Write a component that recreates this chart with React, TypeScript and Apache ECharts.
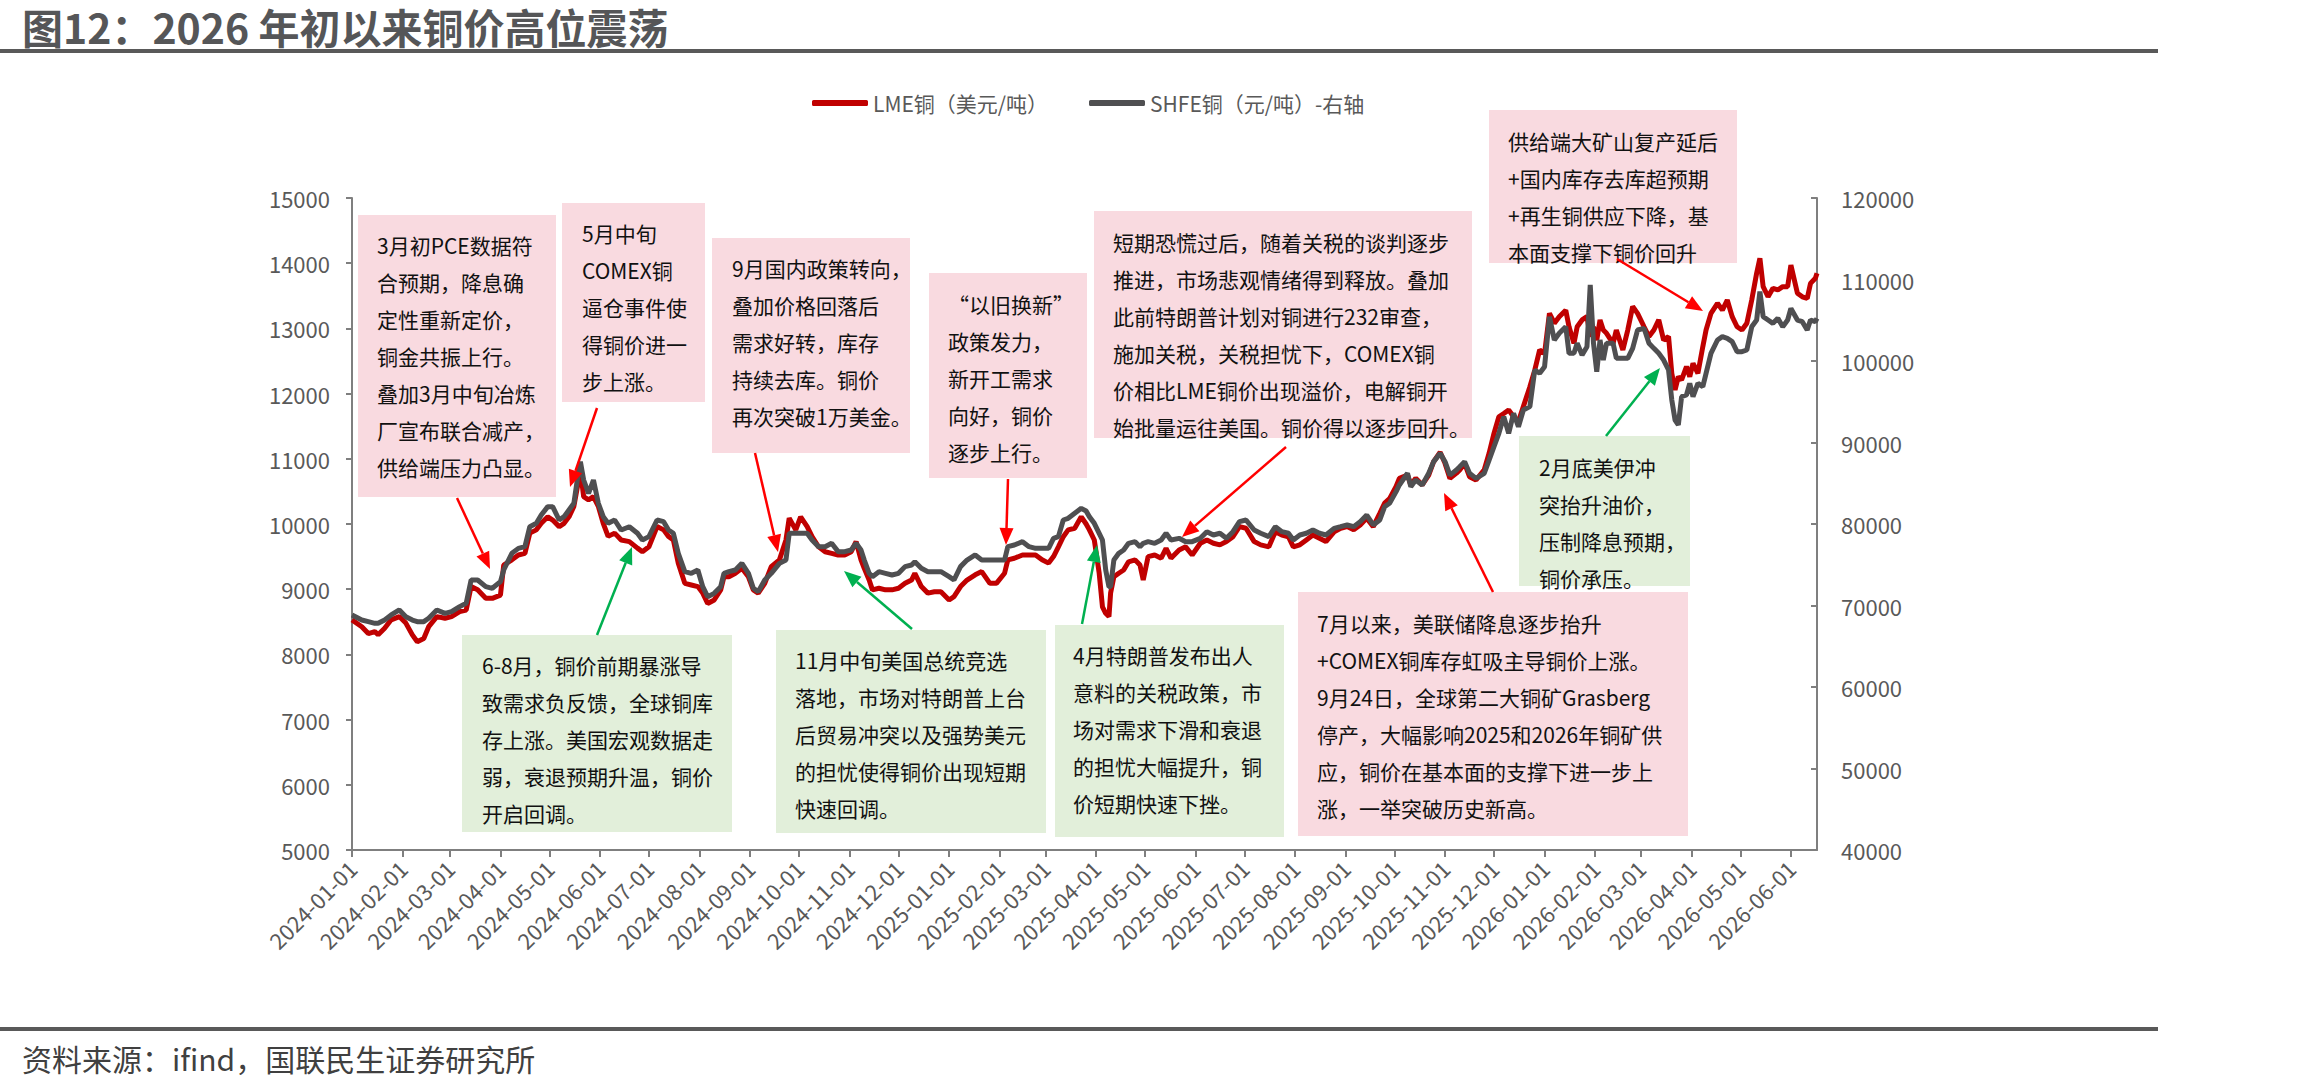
import React, { useEffect, useRef } from "react";
import * as echarts from "echarts";

// ---------- DATA ----------
// calendar days on the axis: 2024-01-01 ... 2026-06-17
const AXIS_START = Date.UTC(2024, 0, 1);
const AXIS_DAYS = 899;

// sampled observations: day offset from 2024-01-01, LME (USD/t, left axis), SHFE (CNY/t, right axis)
const days2024 = [0, 6, 10, 14, 16, 20, 24, 29, 33, 37, 40, 44, 47, 52, 57, 61, 66, 70, 73, 77, 82, 86, 91, 93, 98, 102, 106, 109, 113, 116, 120, 123, 127, 130, 133, 136, 139, 140, 142, 145, 148, 151, 154, 157, 161, 165, 170, 175, 178, 182, 187, 191, 194, 197, 200, 204, 208, 212, 215, 218, 222, 226, 228, 231, 235, 239, 243, 246, 249, 253, 257, 262, 266, 268, 272, 275, 279, 282, 286, 290, 294, 298, 302, 306, 309, 312, 314, 317, 319, 323, 327, 331, 335, 339, 343, 345, 349, 353, 357, 361];
const lme2024 = [8530, 8425, 8320, 8350, 8300, 8400, 8530, 8580, 8480, 8300, 8195, 8245, 8425, 8580, 8555, 8580, 8655, 8680, 9040, 8990, 8860, 8860, 8910, 9370, 9450, 9525, 9550, 9860, 9910, 10010, 10110, 10060, 9960, 10010, 10110, 10270, 10680, 10830, 10420, 10370, 10420, 10270, 10010, 9810, 9860, 9755, 9730, 9630, 9575, 9650, 9960, 9910, 9810, 9755, 9400, 9090, 9065, 9040, 8940, 8780, 8835, 8990, 9190, 9190, 9245, 9320, 9190, 8990, 8940, 9090, 9345, 9450, 9755, 10090, 9910, 10110, 9960, 9805, 9650, 9575, 9550, 9525, 9525, 9575, 9730, 9450, 9320, 9140, 8990, 9015, 8990, 8990, 9015, 9090, 9140, 9245, 9040, 8940, 8960, 8960];
const shfe2024 = [68840, 68220, 68020, 67810, 67810, 68220, 68840, 69450, 68630, 68220, 68020, 68020, 68430, 69450, 69040, 69240, 69860, 70270, 73130, 73130, 72310, 72110, 72930, 74360, 76400, 77010, 77220, 79670, 80080, 81100, 82130, 82130, 80490, 80900, 81720, 82540, 86630, 87650, 85400, 83760, 85400, 82540, 80900, 80080, 80490, 79260, 79670, 78860, 78040, 78450, 80490, 80290, 79260, 78860, 76400, 74150, 73950, 74360, 72310, 71080, 71490, 72310, 73950, 74150, 74360, 75170, 73950, 72110, 71700, 73130, 73950, 75170, 75580, 78860, 78860, 78860, 78860, 78040, 77220, 77220, 77630, 76610, 76610, 76810, 77630, 76810, 75580, 73950, 73540, 74150, 73950, 73740, 73950, 74770, 74970, 75380, 74560, 74150, 74150, 74150];

const days2025 = [366, 369, 373, 377, 382, 386, 391, 395, 400, 402, 406, 411, 415, 419, 423, 427, 430, 433, 436, 439, 443, 447, 450, 452, 455, 458, 460, 462, 464, 465, 467, 470, 473, 476, 480, 483, 485, 488, 492, 496, 499, 502, 507, 511, 515, 520, 524, 528, 532, 536, 540, 544, 548, 553, 557, 562, 566, 570, 574, 577, 581, 585, 589, 593, 597, 602, 606, 610, 614, 618, 622, 626, 630, 633, 636, 640, 642, 647, 649, 652, 656, 660, 663, 667, 670, 673, 677, 679, 682, 685, 689, 694, 697, 700, 703, 706, 709, 712, 715, 718, 722, 725, 728];
const lme2025 = [8835, 8885, 9040, 9140, 9220, 9270, 9090, 9090, 9245, 9450, 9475, 9525, 9525, 9525, 9450, 9400, 9500, 9650, 9805, 9910, 9935, 10110, 10000, 9910, 9755, 9245, 8730, 8630, 8580, 8940, 9190, 9245, 9295, 9420, 9450, 9370, 9140, 9500, 9525, 9475, 9625, 9475, 9600, 9650, 9525, 9705, 9755, 9705, 9680, 9730, 9805, 9960, 9935, 9730, 9680, 9650, 9880, 9830, 9805, 9650, 9680, 9755, 9830, 9780, 9730, 9880, 9935, 9960, 9910, 9985, 10090, 9960, 10165, 10320, 10390, 10575, 10700, 10750, 10600, 10700, 10600, 10750, 10955, 11100, 10930, 10700, 10780, 10830, 10930, 10725, 10675, 10830, 11085, 11390, 11645, 11695, 11750, 11645, 11570, 11800, 12105, 12360, 12670];
const shfe2025 = [73540, 73130, 74770, 75580, 76200, 75580, 75580, 75580, 75580, 77220, 77420, 77830, 77220, 77010, 77010, 77010, 78240, 78450, 80490, 80700, 81310, 81920, 81600, 80900, 80080, 78860, 78040, 74360, 72310, 72310, 75580, 76400, 76810, 77630, 77830, 77220, 77630, 77830, 77630, 78040, 78860, 78040, 78240, 77830, 77830, 78240, 79060, 78650, 78860, 78240, 79060, 80290, 80490, 79260, 78860, 78450, 79670, 79060, 78860, 78040, 78650, 78860, 79260, 78860, 78650, 79470, 79670, 79880, 79670, 80290, 81100, 79880, 80490, 82130, 82540, 83970, 84790, 86220, 84580, 85400, 84790, 86220, 87650, 88670, 87650, 86000, 86630, 87030, 87650, 86220, 85600, 86220, 87850, 89490, 91130, 93170, 91130, 93580, 91940, 93990, 94400, 98900, 98490];

const days2026 = [731, 734, 737, 740, 744, 746, 749, 751, 754, 757, 759, 761, 763, 765, 767, 769, 773, 775, 779, 782, 785, 788, 792, 795, 798, 801, 804, 807, 809, 811, 813, 815, 818, 820, 822, 825, 828, 830, 833, 837, 840, 843, 846, 849, 852, 855, 858, 861, 863, 865, 868, 871, 874, 877, 880, 882, 886, 889, 892, 894, 897, 898];
const lme2026 = [12615, 13230, 13080, 13180, 13280, 13025, 12770, 13025, 13130, 13180, 12875, 13025, 12820, 13130, 12975, 12925, 12770, 12975, 12670, 12975, 13335, 13230, 13025, 12875, 12975, 13130, 12820, 12875, 12310, 12055, 12260, 12210, 12415, 12260, 12465, 12310, 12720, 12975, 13230, 13385, 13280, 13435, 13180, 13025, 12975, 13080, 13435, 13845, 14075, 13640, 13485, 13615, 13590, 13640, 13640, 13970, 13540, 13485, 13460, 13690, 13770, 13845];
const shfe2026 = [99300, 105440, 102580, 103400, 104210, 100940, 100940, 102170, 100740, 101760, 109330, 102170, 98690, 102580, 100120, 102170, 102170, 100330, 100330, 100330, 101550, 103800, 104010, 102170, 101550, 100940, 100120, 98900, 95210, 92760, 92150, 95620, 95830, 97260, 95620, 97260, 96850, 98490, 100940, 102580, 102990, 102780, 102370, 101150, 101150, 101350, 104210, 105030, 108510, 105440, 105030, 104620, 105240, 104210, 105030, 106460, 105030, 104830, 103800, 105030, 104830, 105240];

const leftTicks = { min: 5000, max: 15000, step: 1000 };
const rightTicks = { min: 40000, max: 120000, step: 10000 };

const seriesNames = ["LME铜（美元/吨）", "SHFE铜（元/吨）-右轴"];

const titleText = "图12：2026 年初以来铜价高位震荡";
const sourceText = "资料来源：ifind，国联民生证券研究所";

// annotation boxes
const PINK = "#F9DAE0";
const GREEN = "#E2EFDA";
const notes = [
  { x: 358, y: 215, w: 198, h: 282, tx: 377, ty: 226, fill: PINK, lines: ["3月初PCE数据符", "合预期，降息确", "定性重新定价，", "铜金共振上行。", "叠加3月中旬冶炼", "厂宣布联合减产，", "供给端压力凸显。"] },
  { x: 562, y: 203, w: 143, h: 199, tx: 582, ty: 214, fill: PINK, lines: ["5月中旬", "COMEX铜", "逼仓事件使", "得铜价进一", "步上涨。"] },
  { x: 712, y: 238, w: 198, h: 215, tx: 732, ty: 249, fill: PINK, lines: ["9月国内政策转向，", "叠加价格回落后", "需求好转，库存", "持续去库。铜价", "再次突破1万美金。"] },
  { x: 929, y: 273, w: 158, h: 205, tx: 948, ty: 285, fill: PINK, lines: ["“以旧换新”", "政策发力，", "新开工需求", "向好，铜价", "逐步上行。"] },
  { x: 1094, y: 211, w: 378, h: 227, tx: 1113, ty: 223, fill: PINK, lines: ["短期恐慌过后，随着关税的谈判逐步", "推进，市场悲观情绪得到释放。叠加", "此前特朗普计划对铜进行232审查，", "施加关税，关税担忧下，COMEX铜", "价相比LME铜价出现溢价，电解铜开", "始批量运往美国。铜价得以逐步回升。"] },
  { x: 1489, y: 110, w: 248, h: 153, tx: 1508, ty: 122, fill: PINK, lines: ["供给端大矿山复产延后", "+国内库存去库超预期", "+再生铜供应下降，基", "本面支撑下铜价回升"] },
  { x: 462, y: 635, w: 270, h: 197, tx: 482, ty: 646, fill: GREEN, lines: ["6-8月，铜价前期暴涨导", "致需求负反馈，全球铜库", "存上涨。美国宏观数据走", "弱，衰退预期升温，铜价", "开启回调。"] },
  { x: 776, y: 630, w: 270, h: 203, tx: 795, ty: 641, fill: GREEN, lines: ["11月中旬美国总统竞选", "落地，市场对特朗普上台", "后贸易冲突以及强势美元", "的担忧使得铜价出现短期", "快速回调。"] },
  { x: 1055, y: 625, w: 229, h: 212, tx: 1073, ty: 636, fill: GREEN, lines: ["4月特朗普发布出人", "意料的关税政策，市", "场对需求下滑和衰退", "的担忧大幅提升，铜", "价短期快速下挫。"] },
  { x: 1298, y: 592, w: 390, h: 244, tx: 1317, ty: 604, fill: PINK, lines: ["7月以来，美联储降息逐步抬升", "+COMEX铜库存虹吸主导铜价上涨。", "9月24日，全球第二大铜矿Grasberg", "停产，大幅影响2025和2026年铜矿供", "应，铜价在基本面的支撑下进一步上", "涨，一举突破历史新高。"] },
  { x: 1519, y: 436, w: 171, h: 150, tx: 1539, ty: 448, fill: GREEN, lines: ["2月底美伊冲", "突抬升油价，", "压制降息预期，", "铜价承压。"] },
];

const RED_A = "#FF0000";
const GREEN_A = "#00B050";
const arrows = [
  { x1: 457, y1: 498, x2: 490, y2: 569, c: RED_A },
  { x1: 597, y1: 408, x2: 570, y2: 487, c: RED_A },
  { x1: 755, y1: 453, x2: 778, y2: 552, c: RED_A },
  { x1: 1008, y1: 479, x2: 1006, y2: 545, c: RED_A },
  { x1: 1286, y1: 447, x2: 1182, y2: 537, c: RED_A },
  { x1: 1493, y1: 592, x2: 1444, y2: 493, c: RED_A },
  { x1: 1617, y1: 259, x2: 1703, y2: 311, c: RED_A },
  { x1: 597, y1: 635, x2: 632, y2: 547, c: GREEN_A },
  { x1: 912, y1: 629, x2: 844, y2: 571, c: GREEN_A },
  { x1: 1082, y1: 624, x2: 1097, y2: 545, c: GREEN_A },
  { x1: 1606, y1: 436, x2: 1660, y2: 368, c: GREEN_A },
];

// ---------- BUILD ----------
const FONT = '"Noto Sans CJK SC", "Noto Sans", sans-serif';

function dayLabel(d: number): string {
  return new Date(AXIS_START + d * 86400000).toISOString().slice(0, 10);
}
const categories: string[] = Array.from({ length: AXIS_DAYS }, (_, i) => dayLabel(i));

const allDays = [...days2024, ...days2025, ...days2026];
const allLme = [...lme2024, ...lme2025, ...lme2026];
const allShfe = [...shfe2024, ...shfe2025, ...shfe2026];

const isMonthStart = (_idx: number, val: string) => typeof val === "string" && val.slice(8) === "01";

function arrowEls(a: any) {
  const ang = Math.atan2(a.y2 - a.y1, a.x2 - a.x1);
  const L = 17, W = 7;
  const cos = Math.cos(ang), sin = Math.sin(ang);
  const bx = a.x2 - L * cos, by = a.y2 - L * sin;
  const px = -sin, py = cos;
  return [
    { type: "line", z: 100, shape: { x1: a.x1, y1: a.y1, x2: bx, y2: by }, style: { stroke: a.c, lineWidth: 2.5 } },
    { type: "polygon", z: 100, shape: { points: [[a.x2, a.y2], [bx + W * px, by + W * py], [bx - W * px, by - W * py]] }, style: { fill: a.c } },
  ];
}

function buildOption(): any {
  const graphics: any[] = [];
  graphics.push({ type: "text", x: 22, y: 26, style: { text: titleText, font: `bold 41px ${FONT}`, fill: "#555658", verticalAlign: "middle", align: "left" } });
  graphics.push({ type: "rect", shape: { x: 0, y: 49, width: 2158, height: 4 }, style: { fill: "#595959" } });
  graphics.push({ type: "rect", shape: { x: 0, y: 1027, width: 2158, height: 4 }, style: { fill: "#595959" } });
  graphics.push({ type: "text", x: 22, y: 1058, style: { text: sourceText, font: `30px ${FONT}`, fill: "#404040", verticalAlign: "middle", align: "left" } });
  notes.forEach((n) => {
    graphics.push({ type: "rect", z: 90, shape: { x: n.x, y: n.y, width: n.w, height: n.h }, style: { fill: n.fill } });
    graphics.push({
      type: "text", z: 91, x: n.tx, y: n.ty,
      style: { text: n.lines.join("\n"), font: `21px ${FONT}`, fontSize: 21, fontFamily: FONT, lineHeight: 37, fill: "#111111", verticalAlign: "top", align: "left" },
    });
  });
  arrows.forEach((a) => graphics.push(...arrowEls(a)));

  const axisColor = "#7F7F7F";
  const labelColor = "#595959";
  const plain = (v: number) => String(v);

  return {
    animation: false,
    backgroundColor: "#ffffff",
    textStyle: { fontFamily: FONT },
    grid: { left: 352, right: 493, top: 198, bottom: 240, containLabel: false },
    legend: [
      {
        data: [seriesNames[0]], left: 807, top: 86, icon: "roundRect", itemWidth: 56, itemHeight: 6,
        textStyle: { fontSize: 21, color: labelColor, fontFamily: FONT, lineHeight: 24 },
      },
      {
        data: [seriesNames[1]], left: 1084, top: 86, icon: "roundRect", itemWidth: 56, itemHeight: 6,
        textStyle: { fontSize: 21, color: labelColor, fontFamily: FONT, lineHeight: 24 },
      },
    ],
    xAxis: {
      type: "category",
      data: categories,
      boundaryGap: false,
      axisLine: { show: true, lineStyle: { color: axisColor, width: 2 } },
      axisTick: { show: true, interval: isMonthStart, length: 7, lineStyle: { color: axisColor, width: 2 } },
      axisLabel: { interval: isMonthStart, rotate: 45, fontSize: 22, color: labelColor, margin: 14, fontFamily: FONT },
      splitLine: { show: false },
    },
    yAxis: [
      {
        type: "value", position: "left", min: leftTicks.min, max: leftTicks.max, interval: leftTicks.step,
        axisLine: { show: true, lineStyle: { color: axisColor, width: 2 } },
        axisTick: { show: true, length: 6, lineStyle: { color: axisColor, width: 2 } },
        axisLabel: { fontSize: 22, color: labelColor, margin: 22, fontFamily: FONT, formatter: plain },
        splitLine: { show: false },
      },
      {
        type: "value", position: "right", min: rightTicks.min, max: rightTicks.max, interval: rightTicks.step,
        axisLine: { show: true, lineStyle: { color: axisColor, width: 2 } },
        axisTick: { show: true, inside: true, length: 6, lineStyle: { color: axisColor, width: 2 } },
        axisLabel: { fontSize: 22, color: labelColor, margin: 24, fontFamily: FONT, formatter: plain },
        splitLine: { show: false },
      },
    ],
    series: [
      {
        name: seriesNames[0], type: "line", yAxisIndex: 0, showSymbol: false, symbol: "none", connectNulls: true,
        lineStyle: { color: "#C00000", width: 5 }, itemStyle: { color: "#C00000" },
        data: allDays.map((d, i) => [categories[d], allLme[i]]),
      },
      {
        name: seriesNames[1], type: "line", yAxisIndex: 1, showSymbol: false, symbol: "none", connectNulls: true,
        lineStyle: { color: "#4F4F51", width: 5 }, itemStyle: { color: "#4F4F51" },
        data: allDays.map((d, i) => [categories[d], allShfe[i]]),
      },
    ],
    graphic: graphics,
  };
}

export default function App() {
  const ref = useRef<HTMLDivElement>(null);
  useEffect(() => {
    if (!ref.current) return;
    const chart = echarts.init(ref.current, null, { renderer: "svg" });
    chart.setOption(buildOption());
    return () => chart.dispose();
  }, []);
  return (
    <div
      ref={ref}
      style={{ position: "absolute", left: 0, top: 0, width: 2310, height: 1090, background: "#fff" }}
    />
  );
}
